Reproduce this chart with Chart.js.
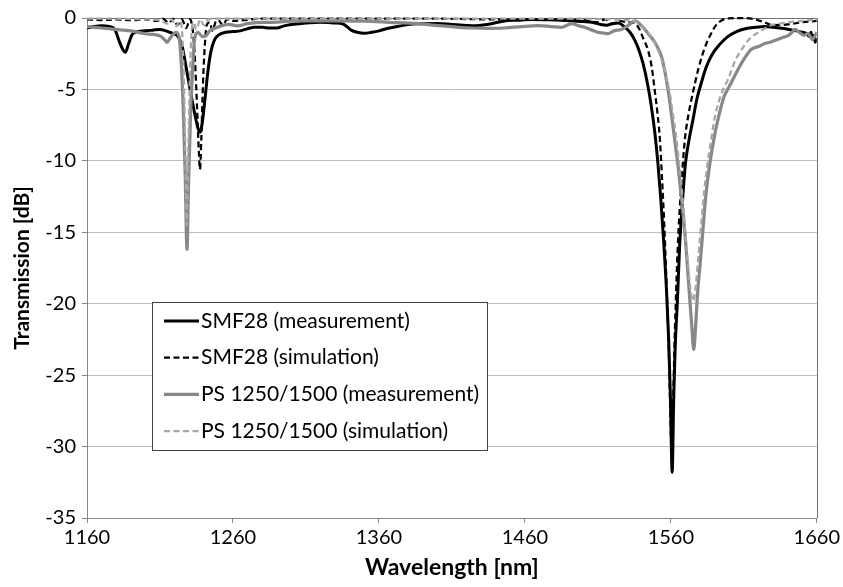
<!DOCTYPE html>
<html>
<head>
<meta charset="utf-8">
<script src="https://cdn.jsdelivr.net/npm/chart.js@4.4.1/dist/chart.umd.min.js"></script>
<style>
  body { margin: 0; background: #fff; }
  #chart { display: block; }
</style>
</head>
<body>
<canvas id="chart" width="843" height="587"></canvas>
<script>
// axis ticks
const xTicks = [1160, 1260, 1360, 1460, 1560, 1660];
const seriesLabels = ['SMF28 (measurement)', 'SMF28 (simulation)', 'PS 1250/1500 (measurement)', 'PS 1250/1500 (simulation)'];

// SMF28 measurement
const smfMeasNm = [1160, 1165, 1170, 1175, 1179, 1182, 1184.5, 1186.3, 1188.5, 1191, 1195, 1200, 1205, 1210, 1214, 1218, 1222,
  1225, 1228, 1231, 1234, 1236, 1237.5, 1239, 1241, 1243, 1245, 1247.5, 1250, 1255, 1260, 1265, 1270, 1275, 1280, 1285, 1290,
  1295, 1300, 1305, 1310, 1320, 1330, 1335, 1338, 1341, 1345, 1350, 1355, 1360, 1365, 1370, 1375, 1380, 1390, 1400, 1410, 1420,
  1425, 1430, 1437, 1445, 1455, 1465, 1475, 1485, 1492, 1500, 1506, 1512, 1516, 1520, 1524, 1528, 1532, 1535, 1538, 1541, 1544,
  1546.5, 1549, 1551, 1553, 1555, 1557, 1558.5, 1559.7, 1560.9, 1562, 1563, 1564.5, 1566, 1568, 1570, 1572.5, 1575, 1578, 1581,
  1584, 1588, 1593, 1599, 1605, 1611, 1618, 1624, 1630, 1636, 1641, 1646, 1650, 1653, 1655, 1656, 1657, 1658, 1659, 1660];
const smfMeasDb = [-0.7, -0.6, -0.55, -0.6, -0.8, -1.6, -2.2, -2.4, -1.8, -1.15, -0.95, -0.9, -0.85, -0.8, -0.9, -1.05, -1.25,
  -1.9, -3.5, -5.2, -6.8, -7.7, -8.0, -7.3, -5.5, -3.6, -2.3, -1.5, -1.2, -1.0, -0.95, -0.9, -0.75, -0.65, -0.65, -0.7, -0.7,
  -0.55, -0.45, -0.4, -0.35, -0.3, -0.35, -0.4, -0.6, -0.85, -1.0, -1.07, -1.0, -0.9, -0.75, -0.65, -0.55, -0.45, -0.4, -0.38, -0.45, -0.52,
  -0.55, -0.5, -0.4, -0.22, -0.15, -0.1, -0.12, -0.15, -0.2, -0.25, -0.3, -0.45, -0.5, -0.4, -0.35, -0.6, -1.0, -1.5, -2.2, -3.2, -4.6,
  -6.1, -8.0, -10.0, -12.5, -15.5, -19.0, -22.5, -26.5, -31.8, -26.5, -23.0, -19.8, -16.0, -12.8, -10.2, -8.5, -7.2, -5.6, -4.5,
  -3.5, -2.6, -1.9, -1.3, -0.95, -0.75, -0.65, -0.6, -0.65, -0.72, -0.8, -0.9, -1.0, -1.1, -1.3, -1.0, -1.5, -1.2, -1.7, -1.4];

// SMF28 simulation
const smfSimNm = [1160, 1170, 1180, 1190, 1200, 1208, 1212, 1216, 1219, 1222, 1225, 1228, 1230.5, 1232.5, 1234, 1235.5,
  1236.7, 1237.4, 1238.3, 1239.5, 1240.8, 1242, 1244, 1246, 1248, 1250, 1253, 1256, 1260, 1280, 1320, 1360, 1400, 1440, 1480,
  1500, 1510, 1515, 1520, 1525, 1530, 1535, 1538, 1541, 1544.5, 1547, 1549, 1551, 1552.5, 1554, 1555.5, 1557, 1558.5, 1559.6,
  1560.5, 1561.4, 1562.6, 1564, 1565.2, 1566.2, 1568, 1569.6, 1572, 1575.4, 1579, 1583.2, 1587.5, 1591, 1595, 1600, 1610, 1618,
  1624, 1630, 1640, 1650, 1660];
const smfSimDb = [-0.1, -0.15, -0.1, -0.15, -0.1, -0.2, -0.05, -0.35, -0.05, -0.5, -0.1, -0.7, -0.1, -0.9, -3.0, -6.5,
  -9.5, -10.6, -8.5, -4.5, -1.8, -0.5, -0.3, -0.9, -0.3, -0.15, -0.5, -0.1, -0.2, -0.05, -0.05, -0.05, -0.05, -0.1, -0.1,
  -0.15, -0.3, -0.1, -0.4, -0.2, -0.3, -0.35, -0.7, -1.4, -2.3, -3.5, -5.1, -6.8, -8.5, -11.3, -14.5, -18.5, -23.0, -27.5,
  -30.3, -27.5, -22.5, -18.0, -15.0, -13.2, -10.5, -8.5, -6.8, -5.1, -3.5, -2.1, -1.1, -0.5, -0.15, -0.02, 0, -0.1,
  -0.3, -0.5, -0.45, -0.3, -0.2];

// PS 1250/1500 measurement
const psMeasNm = [1160, 1165, 1170, 1175, 1180, 1185, 1190, 1195, 1200, 1205, 1210, 1213, 1215, 1217, 1219, 1221, 1223,
  1224.5, 1226, 1227.3, 1228.5, 1229.6, 1231, 1232.4, 1233.8, 1236, 1239, 1241.5, 1244, 1248, 1252, 1257, 1263, 1270, 1280,
  1287, 1300, 1310, 1330, 1350, 1367, 1387, 1401, 1415, 1424, 1435, 1446, 1458, 1469, 1478, 1485, 1492, 1497, 1501, 1506, 1510,
  1514, 1517, 1521, 1526, 1531, 1535.4, 1540, 1544.5, 1549, 1553.6, 1556, 1558.2, 1560.5, 1563, 1565, 1567.5, 1570, 1572.5,
  1574.5, 1575.7, 1577, 1578.5, 1580, 1582, 1584, 1587, 1590, 1593, 1596.5, 1600, 1603, 1606, 1610, 1615, 1620, 1624, 1628,
  1633, 1637, 1640, 1643, 1645, 1648, 1651, 1654, 1657, 1660];
const psMeasDb = [-0.6, -0.65, -0.7, -0.75, -0.8, -0.85, -0.9, -1.0, -1.1, -1.15, -1.25, -1.5, -1.7, -1.4, -1.15, -1.0, -1.3,
  -3.0, -6.5, -11.0, -16.2, -11.5, -6.5, -3.5, -1.4, -1.0, -1.3, -1.25, -0.9, -0.7, -0.55, -0.45, -0.55, -0.4, -0.3,
  -0.3, -0.22, -0.2, -0.2, -0.22, -0.3, -0.4, -0.54, -0.65, -0.7, -0.72, -0.7, -0.6, -0.54, -0.6, -0.65, -0.4, -0.55, -0.65, -0.85, -1.0,
  -1.05, -1.1, -0.9, -0.8, -0.5, -0.2, -0.55, -1.1, -1.7, -2.7, -3.8, -5.1, -6.8, -8.8, -10.4, -12.8, -15.5, -19.0,
  -21.8, -23.2, -21.5, -19.0, -17.3, -14.8, -12.4, -10.0, -8.2, -6.8, -5.5, -4.8, -4.2, -3.6, -2.9, -2.2, -2.0, -1.8, -1.7,
  -1.5, -1.35, -1.25, -1.0, -0.8, -1.0, -1.2, -1.1, -1.5, -1.0];

// PS 1250/1500 simulation
const psSimNm = [1160, 1180, 1200, 1210, 1215, 1218, 1221, 1223.5, 1225.3, 1226.3, 1227.3, 1228.4, 1229.4, 1230.4, 1231.4,
  1233, 1235, 1237.5, 1240, 1243, 1250, 1300, 1400, 1500, 1520, 1530, 1537, 1542, 1546.7, 1551, 1554.7, 1557, 1559.3, 1561.5,
  1563.9, 1566, 1567.5, 1569.5, 1571.5, 1573.5, 1575.3, 1577, 1579, 1581, 1583, 1585, 1587.5, 1590, 1595, 1599.2, 1604, 1610.6,
  1615, 1620, 1625, 1629, 1635, 1640, 1650, 1660];
const psSimDb = [-0.05, -0.05, -0.1, -0.15, -0.4, -0.1, -0.6, -0.2, -1.2, -4.0, -9.0, -14.5, -9.5, -4.5, -1.4,
  -0.3, -0.8, -0.1, -0.5, -0.1, -0.05, -0.05, -0.05, -0.05, -0.1, -0.15, -0.3, -0.8, -1.35, -2.2, -3.2, -4.2, -5.3, -6.8,
  -8.5, -10.5, -12.0, -14.5, -17.0, -19.0, -19.8, -18.8, -16.5, -14.2, -12.0, -10.3, -8.6, -7.0, -5.2, -4.3, -3.0, -1.9,
  -1.35, -1.0, -0.7, -0.5, -0.4, -0.3, -0.2, -0.1];

const toPoints = (nm, db) => nm.map((x, i) => ({ x: x, y: db[i] }));

const FONT = 'Lato, "Open Sans", sans-serif';

// legend drawn inside the plot, like the original
const boxLegend = {
  id: 'boxLegend',
  afterDraw(chart) {
    const ctx = chart.ctx;
    const x0 = 152.5, y0 = 302.5, w = 335, h = 148;
    ctx.save();
    ctx.fillStyle = '#fff';
    ctx.fillRect(x0, y0, w, h);
    ctx.strokeStyle = '#404040';
    ctx.lineWidth = 1;
    ctx.strokeRect(x0, y0, w, h);
    ctx.font = '21px ' + FONT;
    ctx.textBaseline = 'middle';
    chart.data.datasets.forEach((ds, i) => {
      const y = 321 + i * 36.7;
      ctx.beginPath();
      ctx.strokeStyle = ds.borderColor;
      ctx.lineWidth = ds.borderWidth;
      ctx.setLineDash(ds.borderDash || []);
      ctx.moveTo(164, y);
      ctx.lineTo(199, y);
      ctx.stroke();
      ctx.setLineDash([]);
      ctx.fillStyle = '#000';
      ctx.fillText(ds.label, 201, y);
    });
    ctx.restore();
  }
};

// top and right edges of the plot area
const plotFrame = {
  id: 'plotFrame',
  beforeDatasetsDraw(chart) {
    const a = chart.chartArea, ctx = chart.ctx;
    ctx.save();
    ctx.strokeStyle = '#707070';
    ctx.lineWidth = 1;
    ctx.beginPath();
    ctx.moveTo(Math.round(a.left) + 0.5, Math.round(a.top) + 0.5);
    ctx.lineTo(Math.round(a.right) + 0.5, Math.round(a.top) + 0.5);
    ctx.lineTo(Math.round(a.right) + 0.5, Math.round(a.bottom) + 0.5);
    ctx.stroke();
    ctx.restore();
  }
};

new Chart(document.getElementById('chart'), {
  type: 'line',
  data: {
    datasets: [
      { label: seriesLabels[0], data: toPoints(smfMeasNm, smfMeasDb), borderColor: '#000000', borderWidth: 3, order: 4 },
      { label: seriesLabels[1], data: toPoints(smfSimNm, smfSimDb), borderColor: '#000000', borderWidth: 2.25, borderDash: [6, 3.5], order: 3 },
      { label: seriesLabels[2], data: toPoints(psMeasNm, psMeasDb), borderColor: '#888888', borderWidth: 3.25, order: 2 },
      { label: seriesLabels[3], data: toPoints(psSimNm, psSimDb), borderColor: '#a6a6a6', borderWidth: 2.25, borderDash: [6, 3.5], order: 1 }
    ]
  },
  options: {
    responsive: false,
    animation: false,
    devicePixelRatio: 1,
    layout: { padding: { left: 0, right: 23, top: 13, bottom: 0 } },
    elements: {
      point: { radius: 0 },
      line: { cubicInterpolationMode: 'monotone', fill: false, borderCapStyle: 'butt', borderJoinStyle: 'round' }
    },
    datasets: { line: { clip: { left: 0, right: 0, top: 3, bottom: 0 } } },
    plugins: { legend: { display: false }, tooltip: { enabled: false } },
    scales: {
      x: {
        type: 'linear',
        min: 1160,
        max: 1660,
        afterBuildTicks: s => { s.ticks = xTicks.map(v => ({ value: v })); },
        afterFit: s => { s.height = 69; },
        grid: { drawOnChartArea: false, drawTicks: true, tickLength: 5, color: '#868686' },
        border: { color: '#868686', width: 1 },
        ticks: { color: '#000', font: { family: FONT, size: 20 }, padding: 3, maxRotation: 0, callback: v => String(v) },
        title: { display: true, text: 'Wavelength [nm]', color: '#000', font: { family: FONT, size: 23, weight: 'bold' }, padding: { top: 4, bottom: 6 } }
      },
      y: {
        min: -35,
        max: 0,
        ticks: { stepSize: 5, color: '#000', font: { family: FONT, size: 20 }, padding: 6, callback: v => String(v) },
        afterFit: s => { s.width = 87; },
        grid: { color: '#bdbdbd', tickLength: 5, tickColor: '#868686' },
        border: { color: '#868686', width: 1 },
        title: { display: true, text: 'Transmission [dB]', color: '#000', font: { family: FONT, size: 21, weight: 'bold' }, padding: { top: 10, bottom: 2 } }
      }
    }
  },
  plugins: [plotFrame, boxLegend]
});
</script>
</body>
</html>
